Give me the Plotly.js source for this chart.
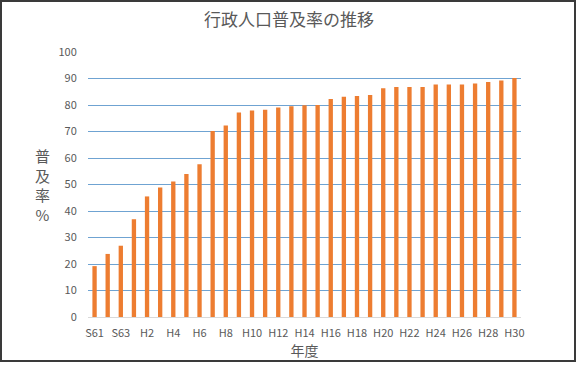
<!DOCTYPE html>
<html>
<head>
<meta charset="utf-8">
<script src="https://cdn.plot.ly/plotly-3.0.1.min.js"></script>
<style>
  html, body { margin: 0; padding: 0; background: #fff; }
  #wrap { position: relative; width: 578px; height: 365px; }
  #chart { width: 578px; height: 365px; }
  #frame { position: absolute; left: 0; top: 0; width: 576px; height: 362px; box-sizing: border-box; border: 2px solid #3a3a3a; pointer-events: none; }
</style>
</head>
<body>
<div id="wrap">
  <div id="chart"></div>
  <div id="frame"></div>
</div>
<script>
const categories = ["S61","S62","S63","H1","H2","H3","H4","H5","H6","H7","H8","H9","H10","H11","H12","H13","H14","H15","H16","H17","H18","H19","H20","H21","H22","H23","H24","H25","H26","H27","H28","H29","H30"];
const rates = [19.2,23.8,26.9,36.9,45.5,48.9,51.1,54.0,57.6,70.2,72.3,77.2,77.9,78.2,79.1,79.5,79.9,80.0,82.3,83.1,83.4,83.8,86.3,86.8,86.8,86.8,87.7,87.7,87.7,88.1,88.7,89.2,90.2];
const tickLabels = categories.filter((c, i) => i % 2 === 0);
const yTicks = [0,10,20,30,40,50,60,70,80,90,100];

const FONT = '"Noto Sans CJK JP", "Noto Sans", sans-serif';
const GREY = '#595959';

const data = [{
  type: 'bar',
  x: categories,
  y: rates,
  marker: { color: '#ED7D31' },
  hoverinfo: 'x+y'
}];

const layout = {
  width: 578, height: 365,
  margin: { l: 88, r: 57, t: 52, b: 48 },
  paper_bgcolor: '#ffffff',
  plot_bgcolor: '#ffffff',
  font: { family: FONT, color: GREY, size: 11 },
  bargap: 0.67,
  showlegend: false,
  title: {
    text: '行政人口普及率の推移',
    font: { family: FONT, size: 17, color: GREY },
    x: 0.5, xanchor: 'center', y: 0.945, yanchor: 'middle'
  },
  xaxis: {
    type: 'category',
    tickvals: tickLabels,
    ticktext: tickLabels,
    ticks: 'outside', ticklen: 6, tickcolor: 'rgba(0,0,0,0)',
    showgrid: false,
    showline: true, linecolor: '#d9d9d9', linewidth: 1,
    tickfont: { family: FONT, size: 11, color: GREY },
    title: { text: '年度', font: { family: FONT, size: 14, color: GREY }, standoff: 6 }
  },
  yaxis: {
    range: [0, 100],
    tickvals: yTicks,
    ticks: 'outside', ticklen: 8, tickcolor: 'rgba(0,0,0,0)',
    showgrid: true, gridcolor: '#6fa3d2', gridwidth: 1,
    zeroline: false,
    showline: false,
    tickfont: { family: FONT, size: 11, color: GREY }
  },
  annotations: [{
    text: '普<br>及<br>率<br>%',
    xref: 'paper', yref: 'paper',
    x: -0.105, y: 0.5, xanchor: 'center', yanchor: 'middle',
    showarrow: false,
    font: { family: FONT, size: 15, color: GREY },
    align: 'center'
  }]
};

Plotly.newPlot('chart', data, layout, { displayModeBar: false, staticPlot: true });
</script>
</body>
</html>
